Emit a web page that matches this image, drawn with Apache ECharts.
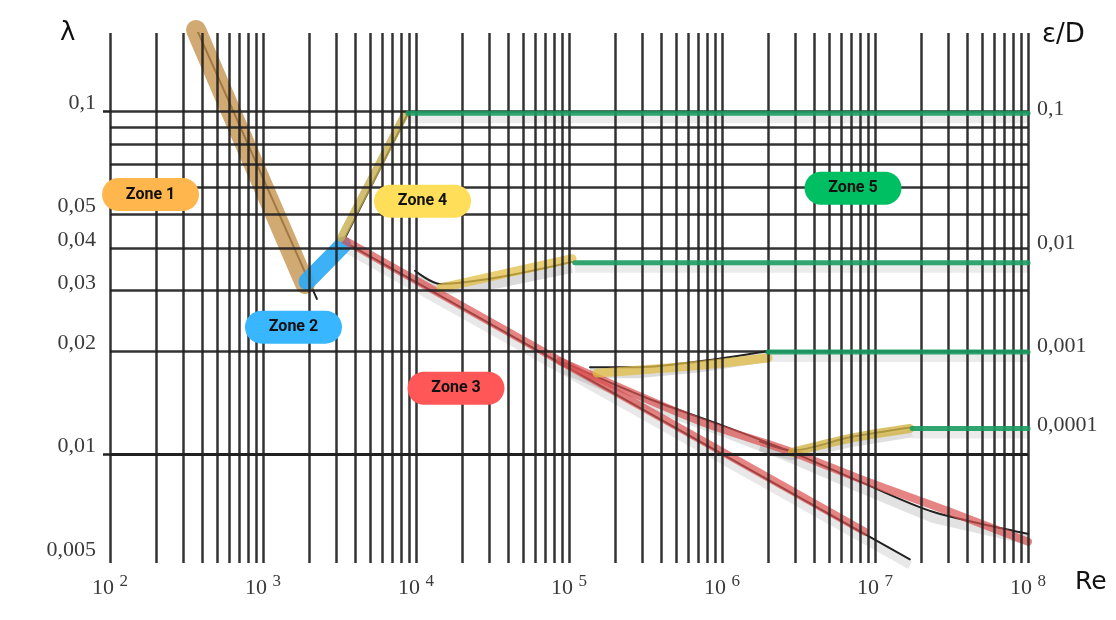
<!DOCTYPE html>
<html><head><meta charset="utf-8">
<script src="https://cdn.jsdelivr.net/npm/echarts@6/dist/echarts.min.js"></script>
<style>html,body{margin:0;padding:0;background:#fff}#c{width:1116px;height:620px}</style>
</head><body><div id="c"></div>
<script>
// ---------------- data (Re, lambda) ----------------
const xTickExponents = ['2','3','4','5','6','7','8'];
const leftTickValues = [0.1, 0.05, 0.04, 0.03, 0.02, 0.01, 0.005];
const leftTickLabels = ['0,1', '0,05', '0,04', '0,03', '0,02', '0,01', '0,005'];
const rightTickValues = [0.098, 0.04, 0.02, 0.0118];
const rightTickLabels = ['0,1', '0,01', '0,001', '0,0001'];
const hGridLambda = [0.005,0.006,0.007,0.008,0.009,0.01,0.02,0.03,0.04,0.05,0.06,0.07,0.08,0.09,0.1];
const vGridMantissa = [1,2,3,4,5,6,7,8,9];
const vGridDecades = [2,3,4,5,6,7];
const vGridLast = 1e8;

// black reference curves
const laminarLine   = [[376, 0.17], [2250, 0.0284]];
const blasiusLine   = [[3283, 0.042], [1.69e7, 0.00495]];
const smoothLine    = [[94200, 0.01845], [3.38e5, 0.01449], [1e6, 0.01216], [2.78e6, 0.01021], [7.98e6, 0.00834], [2.39e7, 0.00681], [1e8, 0.00588]];
const rough1Line    = [[3350, 0.0418], [8870, 0.0987]];
const rough2Line    = [[9850, 0.0343], [14350, 0.0314], [35400, 0.0329], [1.046e5, 0.0364]];
const rough3Line    = [[1.371e5, 0.01797], [2.91e5, 0.01797], [7.18e5, 0.0187], [1.97e6, 0.0200]];
const rough4Line    = [[1.77e6, 0.01092], [2.87e6, 0.01028], [6.87e6, 0.01122], [1.746e7, 0.0120]];

// coloured zone bands
const zone1Band     = [[365, 0.1725], [1882, 0.0314]];
const zone2Band     = [[1940, 0.0319], [3335, 0.0408]];
const zone3BandA    = [[3433, 0.042], [8.6e6, 0.00596]];
const zone3BandB    = [[87300, 0.0187], [7.18e5, 0.01249], [2.78e6, 0.01021], [8.87e6, 0.00834], [3.09e7, 0.00681], [1e8, 0.00557]];
const zone4BandA    = [[3236, 0.0428], [8470, 0.098]];
const zone4BandB    = [[14560, 0.0306], [1.046e5, 0.0372]];
const zone4BandC    = [[1.524e5, 0.01726], [3.38e5, 0.01772], [7.18e5, 0.0182], [2.0e6, 0.0191]];
const zone4BandD    = [[2.87e6, 0.01014], [6.87e6, 0.01114], [1.69e7, 0.0119]];
const zone5LineA    = [[8870, 0.0987], [1e8, 0.0987]];
const zone5LineB    = [[1.09e5, 0.0362], [1e8, 0.0362]];
const zone5LineC    = [[2.0e6, 0.0199], [1e8, 0.0199]];
const zone5LineD    = [[1.75e7, 0.0119], [1e8, 0.0119]];

// zone labels
const zoneNames  = ['Zone 1', 'Zone 2', 'Zone 3', 'Zone 4', 'Zone 5'];
const zoneRe     = [184, 1582, 18260, 11030, 7.18e6];
const zoneLambda = [0.0572, 0.0235, 0.0156, 0.0547, 0.0597];

// ---------------- styles ----------------
const zoneColors = ['#FFB74D', '#38B6FF', '#FF5757', '#FFDE59', '#00BF63'];
const GRID = '#222';
const TXT = '#3a3a3a';
const YMIN = 0.00483, YMAX = 0.169;

const vLines = [];
vGridDecades.forEach(d => vGridMantissa.forEach(m => vLines.push(m * Math.pow(10, d))));
vLines.push(vGridLast);

function lookup(vals, labels, v) {
  for (let i = 0; i < vals.length; i++) if (Math.abs(vals[i] - v) / vals[i] < 1e-6) return labels[i];
  return '';
}
function ln(data, color, width, z, extra) {
  return Object.assign({
    type: 'line', data, xAxisIndex: 0, yAxisIndex: 0, symbol: 'none', silent: true, z,
    animation: false, lineStyle: { color, width, cap: 'round', join: 'round' }
  }, extra || {});
}
function shadow(data, width, alpha) {
  return {
    type: 'line', data, xAxisIndex: 1, yAxisIndex: 2, symbol: 'none', silent: true, z: 2,
    animation: false, lineStyle: { color: 'rgba(110,110,110,' + (alpha || 0.2) + ')', width: width || 9, cap: 'butt', join: 'round' }
  };
}

const chart = echarts.init(document.getElementById('c'), null, { renderer: 'canvas' });
const option = {
  animation: false,
  backgroundColor: '#fff',
  grid: [
    { left: 110, right: 88, top: 33, bottom: 57 },
    { left: 110, right: 88, top: 39, bottom: 51 }
  ],
  xAxis: [
    {
      type: 'log', logBase: 10, min: 100, max: 1e8, gridIndex: 0,
      axisLine: { show: false }, axisTick: { show: false }, splitLine: { show: false },
      axisLabel: {
        margin: 10,
        formatter: (v, i) => '{b|10 }{s|' + (xTickExponents[i] || '') + '}',
        rich: {
          b: { fontFamily: 'Liberation Serif', fontSize: 22, color: TXT, lineHeight: 30, verticalAlign: 'middle' },
          s: { fontFamily: 'Liberation Serif', fontSize: 17, color: TXT, lineHeight: 14, verticalAlign: 'top' }
        }
      }
    },
    { type: 'log', logBase: 10, min: 100, max: 1e8, gridIndex: 1, show: false }
  ],
  yAxis: [
    {
      type: 'log', logBase: 10, min: YMIN, max: YMAX, gridIndex: 0,
      axisLine: { show: false }, splitLine: { show: false },
      axisTick: { show: true, length: 7, customValues: [0.01, 0.1], lineStyle: { color: GRID, width: 2.5 } },
      axisLabel: {
        customValues: leftTickValues,
        formatter: v => lookup(leftTickValues, leftTickLabels, v),
        margin: 14, fontFamily: 'Liberation Serif', fontSize: 22, color: TXT,
        verticalAlign: 'bottom', lineHeight: 16
      }
    },
    {
      type: 'log', logBase: 10, min: YMIN, max: YMAX, gridIndex: 0, position: 'right',
      axisLine: { show: false }, splitLine: { show: false }, axisTick: { show: false },
      axisLabel: {
        customValues: rightTickValues,
        formatter: v => lookup(rightTickValues, rightTickLabels, v),
        margin: 9, fontFamily: 'Liberation Serif', fontSize: 22, color: TXT,
        verticalAlign: 'bottom', lineHeight: 10
      }
    },
    { type: 'log', logBase: 10, min: YMIN, max: YMAX, gridIndex: 1, show: false }
  ],
  graphic: [
    { type: 'text', left: 60, top: 20, style: { text: 'λ', font: '26px "DejaVu Sans"', fill: '#111' } },
    { type: 'text', left: 1042, top: 22, style: { text: 'ε/D', font: '26px "DejaVu Sans"', fill: '#111' } },
    { type: 'text', left: 1075, top: 570, style: { text: 'Re', font: '25px "DejaVu Sans"', fill: '#111' } }
  ],
  series: [
    {
      type: 'line', xAxisIndex: 0, yAxisIndex: 0, data: [], silent: true, z: 1,
      markLine: {
        silent: true, symbol: ['none', 'none'], label: { show: false }, animation: false,
        lineStyle: { color: GRID, width: 2.5, type: 'solid', opacity: 0.92 },
        emphasis: { disabled: true },
        data: vLines.map(v => ({ xAxis: v })).concat(hGridLambda.map(v => ({ yAxis: v })))
      }
    },
    // gray shading
    shadow(blasiusLine, 8, 0.16),
    shadow(smoothLine, 10, 0.2),
    shadow(rough2Line, 10, 0.25),
    shadow(rough3Line, 10, 0.25),
    shadow(rough4Line, 8, 0.22),
    shadow(zone5LineA, 8, 0.14),
    shadow(zone5LineB, 8, 0.14),
    shadow(zone5LineC, 8, 0.14),
    shadow(zone5LineD, 8, 0.14),
    // black curves
    ln(laminarLine, '#222', 2, 3),
    ln(blasiusLine, '#222', 2, 3),
    ln(smoothLine, '#222', 2, 3, { smooth: 0.3 }),
    ln(rough1Line, '#222', 2, 3),
    ln(rough2Line, '#222', 2, 3, { smooth: 0.3 }),
    ln(rough3Line, '#222', 2, 3, { smooth: 0.3 }),
    ln(rough4Line, '#222', 2, 3, { smooth: 0.3 }),
    // zone bands
    ln(zone1Band, 'rgba(196,145,75,0.78)', 20, 4, { clip: false }),
    ln(zone2Band, 'rgba(45,170,245,0.92)', 17, 4),
    ln(zone3BandA, 'rgba(220,80,80,0.7)', 8, 4),
    ln(zone3BandB, 'rgba(220,80,80,0.7)', 8, 4, { smooth: 0.3 }),
    ln(zone4BandA, 'rgba(200,175,80,0.8)', 8, 4),
    ln(zone4BandB, 'rgba(225,190,70,0.75)', 9, 4),
    ln(zone4BandC, 'rgba(225,190,70,0.75)', 9, 4, { smooth: 0.3 }),
    ln(zone4BandD, 'rgba(210,180,70,0.8)', 9, 4, { smooth: 0.3 }),
    ln(zone5LineA, 'rgba(25,155,95,0.9)', 5, 5),
    ln(zone5LineB, 'rgba(25,155,95,0.9)', 5, 5),
    ln(zone5LineC, 'rgba(25,155,95,0.9)', 5, 5),
    ln(zone5LineD, 'rgba(25,155,95,0.9)', 5, 5),
    // zone labels
    {
      type: 'scatter', xAxisIndex: 0, yAxisIndex: 0, symbolSize: 1, silent: true, z: 10,
      itemStyle: { color: 'rgba(0,0,0,0)', opacity: 1 },
      data: zoneNames.map((n, i) => ({ value: [zoneRe[i], zoneLambda[i]], label: { backgroundColor: zoneColors[i] } })),
      label: {
        show: true, position: 'inside', formatter: p => zoneNames[p.dataIndex],
        width: 97, height: 33, lineHeight: 33, align: 'center', verticalAlign: 'middle',
        borderRadius: 17, fontFamily: 'Roboto', fontWeight: 'bold', fontSize: 16, color: '#111', opacity: 1
      }
    }
  ]
};
chart.setOption(option);
</script>
</body></html>
